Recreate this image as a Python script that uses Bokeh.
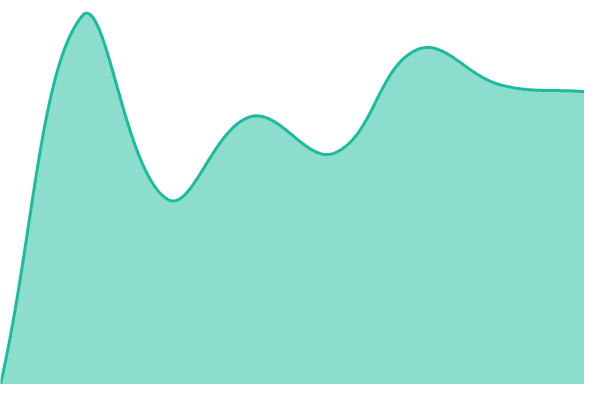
import numpy as np
from bokeh.plotting import figure
from bokeh.models import Range1d
from bokeh.embed import file_html
from bokeh.resources import INLINE

# valeurs (8 points régulièrement espacés)
positions = [0, 1, 2, 3, 4, 5, 6, 7]
valeurs = [0, 386, 193, 279, 241, 349, 312, 305]

W, H = 584, 384
X_MAX, Y_MAX = 7, 400
TENSION = 0.4

# lissage façon spline (tension 0.4), calculé en pixels
sx, sy = W / X_MAX, H / Y_MAX
pts = [(x * sx, v * sy) for x, v in zip(positions, valeurs)]


def clamp(v, lo, hi):
    return max(lo, min(hi, v))


ctrl = []
for i, cur in enumerate(pts):
    prev = pts[i - 1] if i > 0 else cur
    nxt = pts[i + 1] if i < len(pts) - 1 else cur
    d01 = np.hypot(cur[0] - prev[0], cur[1] - prev[1])
    d12 = np.hypot(nxt[0] - cur[0], nxt[1] - cur[1])
    tot = d01 + d12
    fa = TENSION * d01 / tot if tot else 0
    fb = TENSION * d12 / tot if tot else 0
    cp_prev = (cur[0] - fa * (nxt[0] - prev[0]), cur[1] - fa * (nxt[1] - prev[1]))
    cp_next = (cur[0] + fb * (nxt[0] - prev[0]), cur[1] + fb * (nxt[1] - prev[1]))
    cp_prev = (clamp(cp_prev[0], 0, W), clamp(cp_prev[1], 0, H))
    cp_next = (clamp(cp_next[0], 0, W), clamp(cp_next[1], 0, H))
    ctrl.append((cp_prev, cp_next))

xs, ys = [], []
for i in range(len(pts) - 1):
    p0, p3 = pts[i], pts[i + 1]
    c1, c2 = ctrl[i][1], ctrl[i + 1][0]
    t = np.linspace(0, 1, 60, endpoint=(i == len(pts) - 2))
    a, b, c, d = (1 - t) ** 3, 3 * (1 - t) ** 2 * t, 3 * (1 - t) * t ** 2, t ** 3
    bx = a * p0[0] + b * c1[0] + c * c2[0] + d * p3[0]
    by = a * p0[1] + b * c1[1] + c * c2[1] + d * p3[1]
    xs.extend(bx / sx)
    ys.extend(by / sy)

p = figure(width=W, height=H, output_backend="svg", toolbar_location=None,
           x_range=Range1d(0, X_MAX), y_range=Range1d(0, Y_MAX), min_border=0)
p.axis.visible = False
p.grid.visible = False
p.outline_line_color = None

p.varea(x=xs, y1=0, y2=ys, fill_color="#1abc9c", fill_alpha=0.5)
p.line(xs, ys, line_color="#1abc9c", line_width=3)

open("out.html", "w").write(file_html(p, INLINE))
